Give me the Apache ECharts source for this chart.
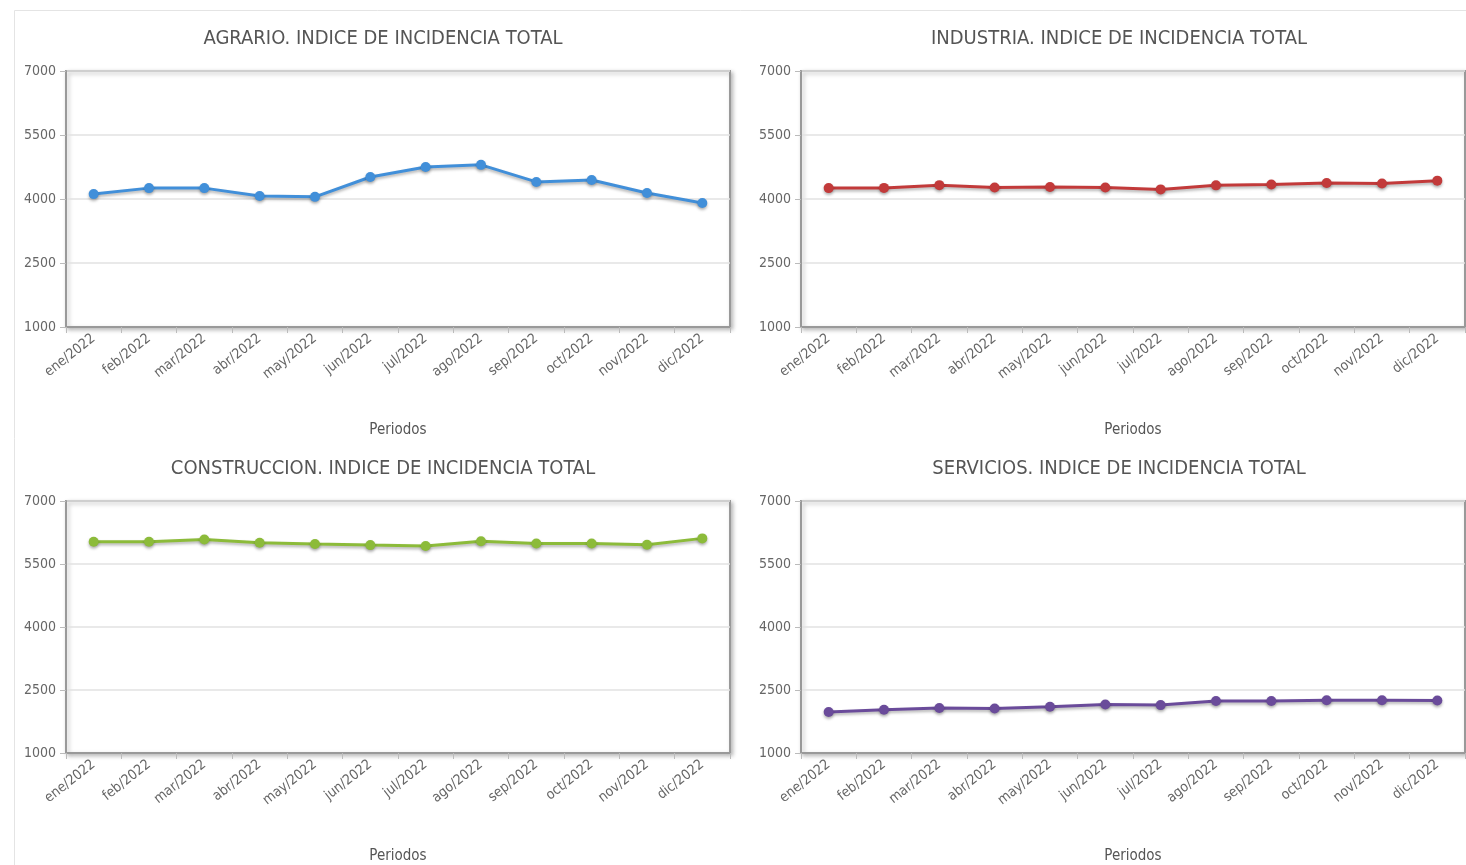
<!DOCTYPE html>
<html><head><meta charset="utf-8">
<script src="https://cdn.jsdelivr.net/npm/echarts@6/dist/echarts.min.js"></script>
<style>html,body{margin:0;padding:0;background:#fff}#c{width:1466px;height:865px}</style>
</head><body><div id="c"></div>
<script>
const categories = ['ene/2022','feb/2022','mar/2022','abr/2022','may/2022','jun/2022','jul/2022','ago/2022','sep/2022','oct/2022','nov/2022','dic/2022'];
const yTicks = [1000, 2500, 4000, 5500, 7000];
const titles = ['AGRARIO. INDICE DE INCIDENCIA TOTAL','INDUSTRIA. INDICE DE INCIDENCIA TOTAL','CONSTRUCCION. INDICE DE INCIDENCIA TOTAL','SERVICIOS. INDICE DE INCIDENCIA TOTAL'];
const agrario = [4115, 4255, 4255, 4070, 4050, 4515, 4750, 4800, 4400, 4445, 4140, 3905];
const industria = [4255, 4260, 4325, 4270, 4280, 4270, 4225, 4320, 4340, 4375, 4365, 4430];
const construccion = [6030, 6030, 6085, 6005, 5975, 5950, 5930, 6040, 5990, 5990, 5960, 6110];
const servicios = [1975, 2030, 2070, 2060, 2100, 2155, 2140, 2240, 2240, 2255, 2255, 2250];
const colors = ['#418fd9', '#c23a3a', '#8cbb3a', '#6a4b9a'];

const FONT = '"DejaVu Sans Condensed", "DejaVu Sans", sans-serif';
const grids = [
  {left: 66, top: 71, width: 664, height: 256},
  {left: 801, top: 71, width: 664, height: 256},
  {left: 66, top: 501, width: 664, height: 256},
  {left: 801, top: 501, width: 664, height: 256}
];
const titleCenters = [[378, 24], [1114, 24], [378, 454], [1114, 454]];
const allData = [agrario, industria, construccion, servicios];

const option = {
  animation: false,
  backgroundColor: '#fff',
  graphic: [{type: 'rect', shape: {x: 14.5, y: 10.5, width: 1480, height: 870}, style: {fill: 'none', stroke: '#e4e4e4', lineWidth: 1}}],
  title: titles.map((t, i) => ({
    text: t, left: titleCenters[i][0], top: titleCenters[i][1], textAlign: 'center',
    textStyle: {fontFamily: FONT, fontSize: 20, fontWeight: 'normal', color: '#555'}
  })),
  grid: grids.map(g => Object.assign({show: true, borderColor: '#999', borderWidth: 2, backgroundColor: '#fff',
    shadowColor: 'rgba(0,0,0,0.25)', shadowBlur: 4, shadowOffsetX: 2, shadowOffsetY: 2}, g)),
  xAxis: grids.map((g, i) => ({
    type: 'category', gridIndex: i, data: categories, boundaryGap: true,
    name: 'Periodos', nameLocation: 'middle', nameGap: 96,
    nameTextStyle: {fontFamily: FONT, fontSize: 15, color: '#555'},
    axisLine: {lineStyle: {color: '#999', width: 2}},
    axisTick: {show: true, length: 6, lineStyle: {color: '#bbb'}},
    axisLabel: {rotate: 38, fontFamily: FONT, fontSize: 14, color: '#666', margin: 10, interval: 0}
  })),
  yAxis: grids.map((g, i) => ({
    type: 'value', gridIndex: i, min: yTicks[0], max: yTicks[yTicks.length - 1], interval: yTicks[1] - yTicks[0],
    axisLine: {show: true, lineStyle: {color: '#999', width: 2}},
    axisTick: {show: true, length: 6, lineStyle: {color: '#bbb'}},
    axisLabel: {fontFamily: FONT, fontSize: 14, color: '#666', margin: 10, formatter: v => String(v)},
    splitLine: {show: true, lineStyle: {color: '#e2e2e2', width: 1.5}}
  })),
  series: allData.map((d, i) => ({
    type: 'line', xAxisIndex: i, yAxisIndex: i, data: d,
    symbol: 'circle', symbolSize: 10,
    lineStyle: {color: colors[i], width: 3, shadowColor: 'rgba(0,0,0,0.3)', shadowBlur: 3, shadowOffsetY: 2},
    itemStyle: {color: colors[i], shadowColor: 'rgba(0,0,0,0.3)', shadowBlur: 3, shadowOffsetY: 2}
  }))
};
echarts.init(document.getElementById('c')).setOption(option);
</script></body></html>
